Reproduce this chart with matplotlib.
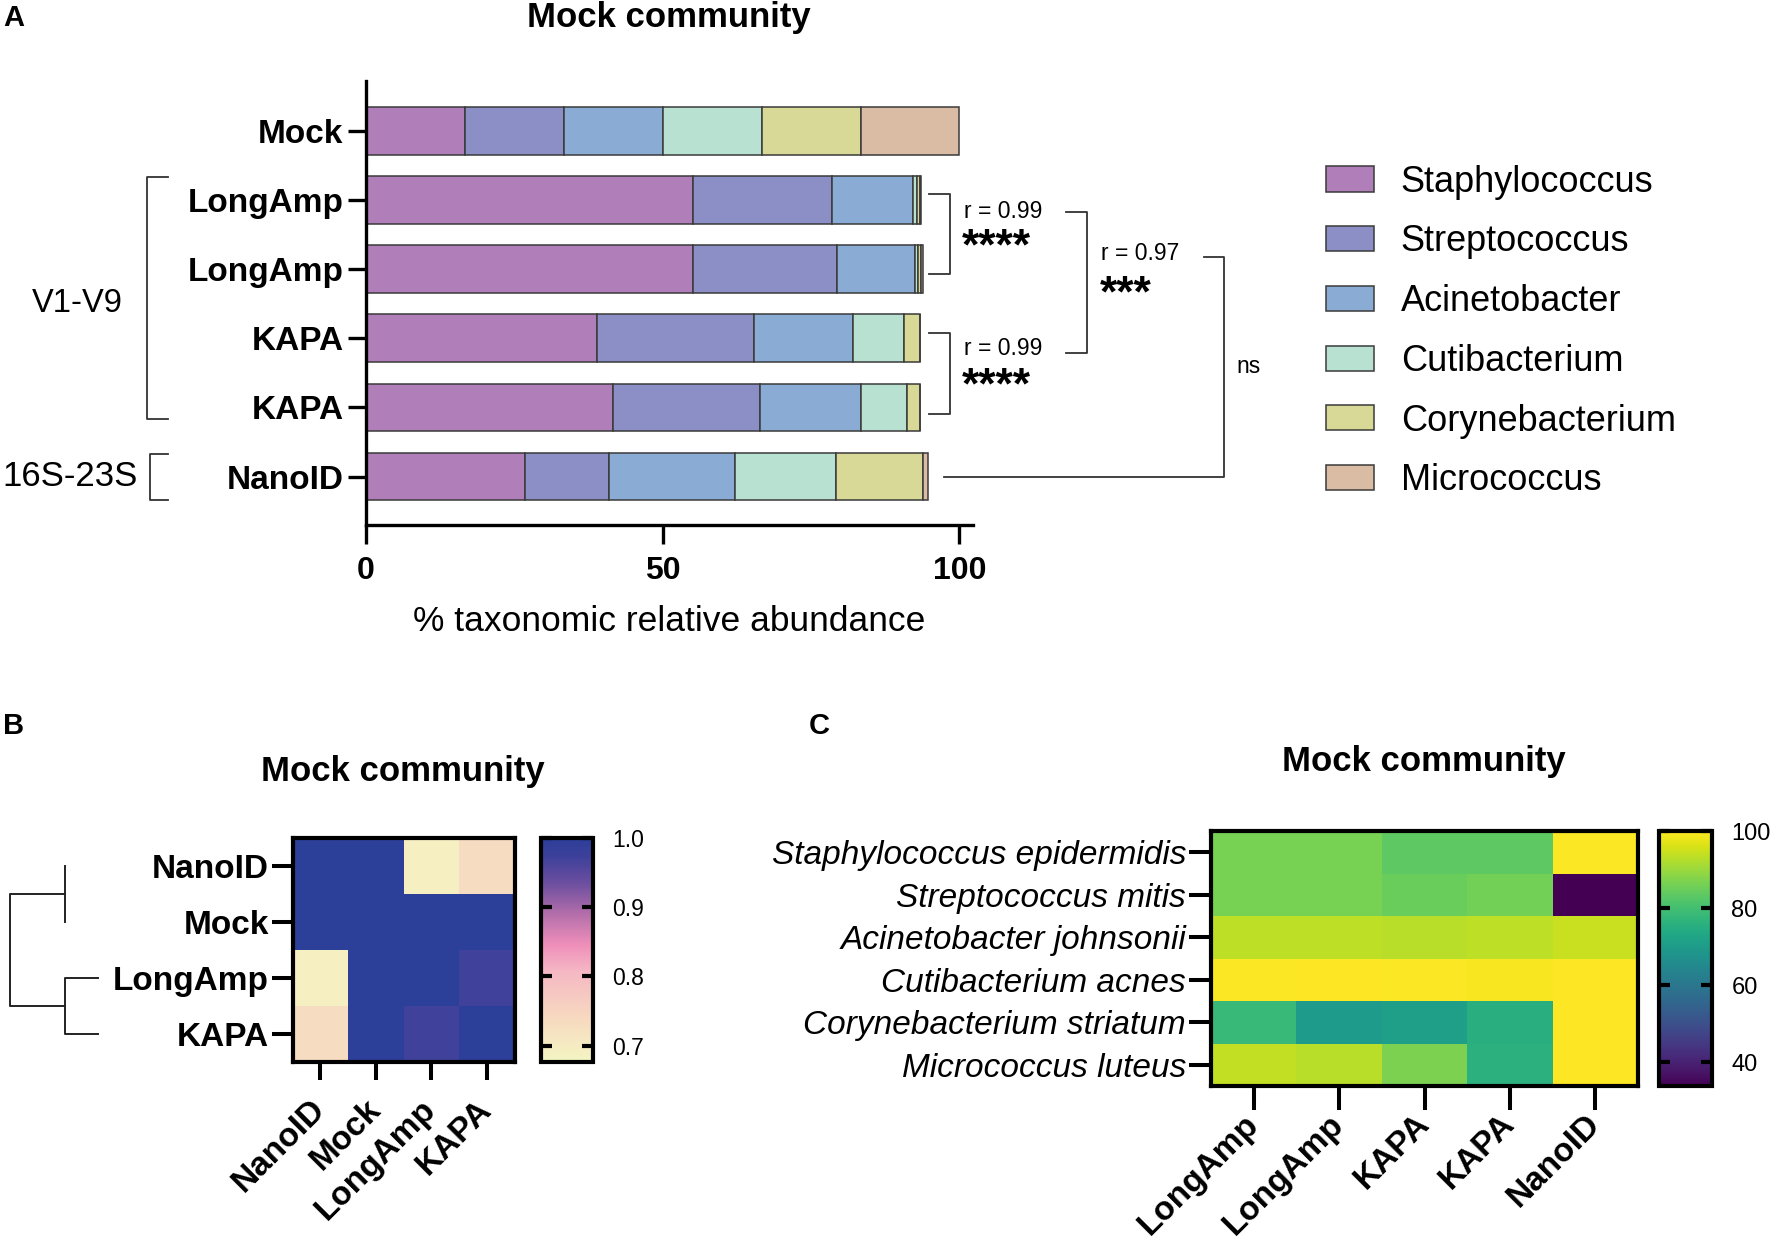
import numpy as np
import matplotlib
matplotlib.use("Agg")
from matplotlib import pyplot as plt
from matplotlib.colors import LinearSegmentedColormap

plt.rcParams['font.family'] = ['Liberation Sans', 'DejaVu Sans']

W, H = 1772, 1243

# ---- panel A : stacked relative abundance
samples_a = ["Mock", "LongAmp", "LongAmp", "KAPA", "KAPA", "NanoID"]
genera = ["Staphylococcus", "Streptococcus", "Acinetobacter",
          "Cutibacterium", "Corynebacterium", "Micrococcus"]
staph = [16.67, 55.2, 55.2, 39.0, 41.6, 26.9]
strep = [16.67, 23.4, 24.2, 26.4, 24.8, 14.1]
acin = [16.67, 13.6, 13.2, 16.7, 17.0, 21.2]
cuti = [16.67, 0.6, 0.5, 8.5, 7.8, 17.1]
cory = [16.67, 0.5, 0.5, 2.7, 2.1, 14.5]
micro = [16.65, 0.3, 0.2, 0.0, 0.0, 1.0]
genus_colors = ["#b07eb8", "#8b8fc6", "#8aabd3", "#b9e1d2", "#d8d897", "#dabca4"]

# ---- panel B : correlation heatmap
samples_b = ["NanoID", "Mock", "LongAmp", "KAPA"]
corr_b = [[1.00, 1.00, 0.69, 0.73],
          [1.00, 1.00, 1.00, 1.00],
          [0.69, 1.00, 1.00, 0.97],
          [0.73, 1.00, 0.97, 1.00]]
# dendrogram links: (leaf pos 1, leaf pos 2, height 1, height 2, merge height)
links_b = [(0.5, 1.5, 0.375, 0.375, 0.375),
           (2.5, 3.5, 0.0, 0.0, 0.375),
           (1.0, 3.0, 0.375, 0.375, 1.0)]

# ---- panel C : identity heatmap
species = ["Staphylococcus epidermidis", "Streptococcus mitis", "Acinetobacter johnsonii",
           "Cutibacterium acnes", "Corynebacterium striatum", "Micrococcus luteus"]
samples_c = ["LongAmp", "LongAmp", "KAPA", "KAPA", "NanoID"]
ident_c = [[86.5, 86.5, 83.5, 83.5, 99.5],
           [86.5, 86.5, 85.0, 86.0, 33.8],
           [93.5, 93.5, 93.0, 93.5, 94.5],
           [99.5, 99.8, 99.5, 99.3, 99.8],
           [78.5, 70.0, 71.0, 75.5, 100.0],
           [94.0, 93.0, 87.0, 76.0, 100.0]]


def px_axes(fig, l, t, r, b):
    return fig.add_axes([l / W, 1 - b / H, (r - l) / W, (b - t) / H])


def ftext(x, y, s, **kw):
    fig.text(x / W, 1 - y / H, s, **kw)


fig = plt.figure(figsize=(W / 100, H / 100), dpi=100)

# ================= A
ax = px_axes(fig, 365.8, 81, 973, 525)
ypos = np.arange(len(samples_a))
left = np.zeros(len(samples_a))
handles = []
for vals, name, col in zip([staph, strep, acin, cuti, cory, micro], genera, genus_colors):
    bars = ax.barh(ypos, vals, left=left, height=0.69, color=col,
                   edgecolor="#3a3a3a", linewidth=1.1, label=name)
    handles.append(bars)
    left = left + np.array(vals)
ax.set_xlim(0, 102.3)
ax.set_ylim(5.70, -0.72)
for s in ["top", "right"]:
    ax.spines[s].set_visible(False)
for s in ["left", "bottom"]:
    ax.spines[s].set_linewidth(2.4)
ax.set_yticks(ypos)
ax.set_yticklabels(samples_a, fontsize=24, fontweight="bold")
ax.set_xticks([0, 50, 100])
ax.set_xticklabels(["0", "50", "100"], fontsize=23, fontweight="bold")
ax.tick_params(axis="y", length=13, width=2.4, pad=3)
ax.tick_params(axis="x", length=14, width=2.4, pad=8)
ax.set_xlabel("% taxonomic relative abundance", fontsize=25.5, labelpad=14)

lk = dict(color="#333333", lw=1.3, clip_on=False)
# left group brackets
ax.plot([-33.3, -36.9, -36.9, -33.3], [0.67, 0.67, 4.17, 4.17], **lk)
ax.plot([-33.3, -36.4, -36.4, -33.3], [4.68, 4.68, 5.34, 5.34], **lk)
ax.text(-41.0, 2.5, "V1-V9", fontsize=23.5, ha="right", va="center")
ax.text(-38.4, 5.0, "16S-23S", fontsize=25, ha="right", va="center")
# correlation brackets
ax.plot([94.9, 98.4, 98.4, 94.9], [0.91, 0.91, 2.07, 2.07], **lk)
ax.plot([94.9, 98.4, 98.4, 94.9], [2.92, 2.92, 4.09, 4.09], **lk)
ax.plot([117.9, 121.5, 121.5, 117.9], [1.17, 1.17, 3.21, 3.21], **lk)
ax.plot([141.2, 144.6, 144.6, 97.4], [1.82, 1.82, 5.0, 5.0], **lk)
star_kw = dict(fontsize=32, fontweight="bold", va="center")
ax.text(100.7, 1.16, "r = 0.99", fontsize=16.5, va="center")
ax.text(100.5, 1.69, "****", **star_kw)
ax.text(100.7, 3.15, "r = 0.99", fontsize=16.5, va="center")
ax.text(100.5, 3.71, "****", **star_kw)
ax.text(123.9, 1.77, "r = 0.97", fontsize=16.5, va="center")
ax.text(123.7, 2.37, "***", **star_kw)
ax.text(146.7, 3.41, "ns", fontsize=16.5, va="center")

fig.legend(handles=handles, loc="center left", bbox_to_anchor=(1326 / W, 1 - 331.5 / H),
           frameon=False, fontsize=26, handlelength=1.32, handleheight=0.69,
           handletextpad=0.75, labelspacing=0.685, borderpad=0, borderaxespad=0)

ftext(669, 17, "Mock community", fontsize=25, fontweight="bold", ha="center", va="center")
ftext(3, 18, "A", fontsize=21, fontweight="bold", va="center")

# ================= B
cmap_b = LinearSegmentedColormap.from_list(
    "b", [(0.0, "#f4f5c3"), (0.2, "#f7d8c0"), (0.4, "#f5b8c4"), (0.52, "#ef8fba"),
          (0.66, "#b36eaa"), (0.8, "#6b4e9f"), (0.92, "#3c409a"), (1.0, "#2c3f99")])
axb = px_axes(fig, 292.6, 837.7, 514.7, 1061.5)
mb = axb.pcolormesh(np.array(corr_b), cmap=cmap_b, vmin=0.677, vmax=1.0)
axb.set_xlim(0, 4)
axb.set_ylim(4, 0)
axb.set_xticks(np.arange(4) + 0.5)
axb.set_yticks(np.arange(4) + 0.5)
axb.set_yticklabels(samples_b, fontsize=24, fontweight="bold")
axb.set_xticklabels(samples_b, fontsize=24, fontweight="bold", rotation=45,
                    ha="right", va="center", rotation_mode="anchor")
axb.tick_params(axis="y", length=15, width=2.9, pad=2)
axb.tick_params(axis="x", length=13, width=2.9, pad=18)
for s in axb.spines.values():
    s.set_linewidth(3)

caxb = px_axes(fig, 540.5, 837.7, 593, 1061.5)
cbb = fig.colorbar(mb, cax=caxb)
cbb.set_ticks([0.7, 0.8, 0.9, 1.0])
cbb.ax.set_yticklabels(["0.7", "0.8", "0.9", "1.0"])
cbb.ax.tick_params(direction="in", left=True, right=True, length=8, width=3,
                   labelsize=16.5, pad=14)
cbb.outline.set_linewidth(3)

axd = px_axes(fig, 0, 837.7, 110, 1061.5)
for y1, y2, h1, h2, hm in links_b:
    axd.plot([h1, hm, hm, h2], [y1, y1, y2, y2], color="#222222", lw=1.4)
axd.set_xlim(98 / 88, -12 / 88)
axd.set_ylim(4, 0)
axd.axis("off")

ftext(403, 771, "Mock community", fontsize=25, fontweight="bold", ha="center", va="center")
ftext(3, 726, "B", fontsize=21, fontweight="bold", va="center")

# ================= C
axc = px_axes(fig, 1211, 831, 1638, 1086)
mc = axc.pcolormesh(np.array(ident_c), cmap="viridis", vmin=33.8, vmax=100)
axc.set_xlim(0, 5)
axc.set_ylim(6, 0)
axc.set_xticks(np.arange(5) + 0.5)
axc.set_yticks(np.arange(6) + 0.5)
axc.set_yticklabels(species, fontsize=24, fontstyle="italic")
axc.set_xticklabels(samples_c, fontsize=24, fontweight="bold", rotation=45,
                    ha="right", va="center", rotation_mode="anchor")
axc.tick_params(axis="y", length=16, width=2.9, pad=2)
axc.tick_params(axis="x", length=17, width=2.9, pad=7)
for s in axc.spines.values():
    s.set_linewidth(3)

caxc = px_axes(fig, 1659, 831, 1712, 1086)
cbc = fig.colorbar(mc, cax=caxc)
cbc.set_ticks([40, 60, 80, 100])
cbc.ax.tick_params(direction="in", left=True, right=True, length=8, width=3,
                   labelsize=17, pad=14)
cbc.outline.set_linewidth(3)

ftext(1424, 761, "Mock community", fontsize=25, fontweight="bold", ha="center", va="center")
ftext(809, 726, "C", fontsize=21, fontweight="bold", va="center")

fig.savefig("out.png", dpi=100)
